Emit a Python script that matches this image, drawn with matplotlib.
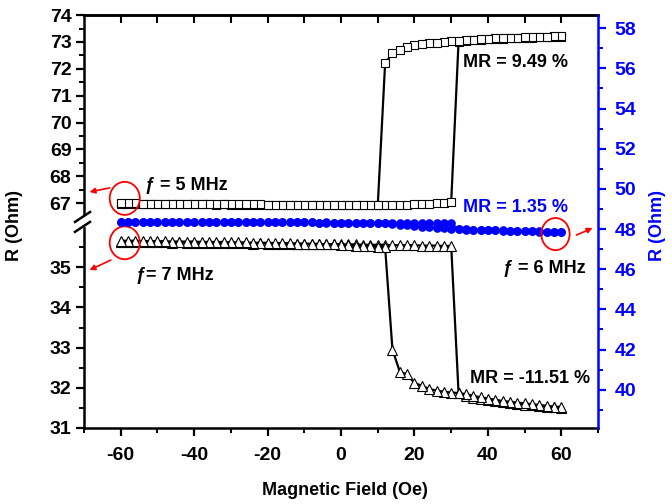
import matplotlib
import numpy as np

matplotlib.use("Agg")
import matplotlib.pyplot as plt
from matplotlib.patches import Ellipse, Rectangle

plt.rcParams["font.family"] = ["Liberation Sans", "DejaVu Sans"]
plt.rcParams["font.weight"] = "bold"
plt.rcParams["axes.labelweight"] = "bold"
plt.rcParams["axes.unicode_minus"] = False

# field sweep, 2 Oe steps; "up" goes -60 -> 60, "down" goes 60 -> -60
field = np.arange(-60, 62, 2)
field_back = field[::-1]

# f = 5 MHz (left axis, upper part)
r5_up = [66.98, 66.98, 66.97, 66.98, 66.97, 66.97, 66.97, 66.96, 66.97, 66.96,
         66.96, 66.96, 66.96, 66.95, 66.96, 66.95, 66.95, 66.95, 66.95, 66.95,
         66.94, 66.95, 66.94, 66.94, 66.94, 66.94, 66.94, 66.94, 66.93, 66.94,
         66.94, 66.94, 66.95, 66.95, 66.94, 66.95, 66.95, 66.94, 66.95, 66.95,
         66.96, 66.96, 66.97, 66.99, 67.02, 67.05,
         73.00, 73.04, 73.06, 73.08, 73.10, 73.11, 73.12, 73.13, 73.14, 73.15,
         73.16, 73.17, 73.18, 73.19, 73.20]
r5_down = [73.22, 73.21, 73.20, 73.19, 73.18, 73.17, 73.16, 73.15, 73.14, 73.13,
           73.12, 73.10, 73.08, 73.06, 73.04,
           73.02, 73.00, 72.97, 72.95, 72.92, 72.88, 72.82, 72.72, 72.58, 72.20,
           66.92, 66.92, 66.93, 66.93, 66.93, 66.93,
           66.93, 66.94, 66.94, 66.94, 66.94, 66.95, 66.95, 66.95, 66.95, 66.95,
           66.96, 66.96, 66.96, 66.96, 66.96, 66.96, 66.97, 66.97, 66.97, 66.97,
           66.97, 66.97, 66.98, 66.98, 66.98, 66.98, 66.98, 66.99, 66.99, 66.99]

# f = 7 MHz (left axis, lower part)
r7_up = [35.63, 35.63, 35.62, 35.63, 35.62, 35.62, 35.62, 35.61, 35.62, 35.61,
         35.61, 35.61, 35.60, 35.61, 35.60, 35.60, 35.60, 35.60, 35.59, 35.60,
         35.59, 35.59, 35.59, 35.58, 35.59, 35.58, 35.58, 35.58, 35.57, 35.58,
         35.57, 35.57, 35.57, 35.56, 35.56, 35.56, 35.56, 35.55, 35.55, 35.55,
         35.55, 35.54, 35.54, 35.54, 35.53, 35.53,
         31.88, 31.80, 31.75, 31.72, 31.69, 31.66, 31.64, 31.62, 31.60, 31.58,
         31.56, 31.55, 31.53, 31.52, 31.50]
r7_down = [31.52, 31.53, 31.55, 31.57, 31.59, 31.61, 31.63, 31.65, 31.67, 31.70,
           31.73, 31.76, 31.80, 31.84, 31.87,
           31.88, 31.90, 31.93, 31.97, 32.05, 32.12, 32.33, 32.40, 32.95,
           35.50, 35.51, 35.52, 35.53, 35.54, 35.55, 35.56,
           35.57, 35.57, 35.58, 35.58, 35.59, 35.59, 35.60, 35.60, 35.60, 35.61,
           35.61, 35.61, 35.62, 35.62, 35.62, 35.63, 35.63, 35.63, 35.63, 35.64,
           35.64, 35.64, 35.64, 35.65, 35.65, 35.65, 35.65, 35.66, 35.66, 35.66]

# f = 6 MHz (right axis)
r6_up = [48.36, 48.36, 48.36, 48.35, 48.36, 48.35, 48.35, 48.35, 48.35, 48.35,
         48.35, 48.34, 48.35, 48.34, 48.34, 48.34, 48.34, 48.34, 48.33, 48.34,
         48.34, 48.33, 48.33, 48.33, 48.33, 48.33, 48.33, 48.32, 48.33, 48.32,
         48.32, 48.32, 48.32, 48.32, 48.32, 48.31, 48.32, 48.31, 48.31, 48.31,
         48.31, 48.31, 48.30, 48.30, 48.30, 48.28,
         48.00, 47.98, 47.97, 47.96, 47.95, 47.94, 47.93, 47.92, 47.91, 47.90,
         47.89, 47.88, 47.87, 47.86, 47.85]
r6_down = [47.84, 47.85, 47.86, 47.87, 47.88, 47.89, 47.90, 47.91, 47.92, 47.93,
           47.94, 47.95, 47.96, 47.97, 47.98,
           48.00, 48.03, 48.06, 48.09, 48.12, 48.15, 48.18, 48.21, 48.25, 48.28,
           48.30, 48.30, 48.31, 48.31, 48.31, 48.32,
           48.32, 48.32, 48.32, 48.33, 48.33, 48.33, 48.33, 48.33, 48.34, 48.34,
           48.34, 48.34, 48.34, 48.34, 48.35, 48.35, 48.35, 48.35, 48.35, 48.35,
           48.35, 48.36, 48.36, 48.36, 48.36, 48.36, 48.36, 48.37, 48.37, 48.37]

left_major = [31, 32, 33, 34, 35, 67, 68, 69, 70, 71, 72, 73, 74]
left_minor = [31.5, 32.5, 33.5, 34.5, 35.5, 67.5, 68.5, 69.5, 70.5, 71.5, 72.5, 73.5]
right_major = [40, 42, 44, 46, 48, 50, 52, 54, 56, 58]
right_minor = [39, 41, 43, 45, 47, 49, 51, 53, 55, 57]

BLUE = "#0000ff"


# broken left axis: 31..36.17 at the bottom, 66.37..74 on top
def fwd(v):
    v = np.asarray(v, dtype=float)
    return np.where(v < 50, (v - 31) * 40.2, 208 + (v - 66.37) * 26.9)


def inv(u):
    u = np.asarray(u, dtype=float)
    return np.where(u < 208, 31 + u / 40.2, 66.37 + (u - 208) / 26.9)


fig = plt.figure(figsize=(6.72, 5.04), dpi=100)
ax = fig.add_axes([0.125, 0.151, 0.765, 0.819])
ax.set_yscale("function", functions=(fwd, inv))

sq = dict(color="black", lw=1.6, marker="s", ms=6, mfc="white", mec="black", mew=0.8)
tri = dict(color="black", lw=1.6, marker="^", ms=6.5, mfc="white", mec="black", mew=0.8)
ax.plot(field, r5_up, **sq)
ax.plot(field_back, r5_down, **sq)
ax.plot(field, r7_up, **tri)
ax.plot(field_back, r7_down, **tri)

ax.set_xlim(-70, 70)
ax.set_ylim(31, 74)
ax.set_xticks(np.arange(-60, 61, 20))
ax.set_xticks(np.arange(-70, 71, 10), minor=True)
ax.set_yticks(left_major)
ax.set_yticks(left_minor, minor=True)
ax.tick_params(which="major", direction="out", length=6, width=1.6, labelsize=14)
ax.tick_params(which="minor", direction="out", length=3.5, width=1.4)
ax.tick_params(axis="x", pad=8)
ax.tick_params(axis="y", pad=3)
for side in ["left", "bottom", "top"]:
    ax.spines[side].set_linewidth(1.8)
ax.spines["right"].set_visible(False)

top = ax.secondary_xaxis("top")
top.set_xticks(np.arange(-60, 61, 10))
top.tick_params(direction="in", length=6, width=1.5, labeltop=False)
top.spines["top"].set_linewidth(1.8)

ax2 = ax.twinx()
blue = dict(color=BLUE, lw=1.4, marker="o", ms=5.2, mfc=BLUE, mec=BLUE)
ax2.plot(field, r6_up, **blue)
ax2.plot(field_back, r6_down, **blue)
ax2.set_ylim(38.1, 58.65)
ax2.set_yticks(right_major)
ax2.set_yticks(right_minor, minor=True)
ax2.tick_params(axis="y", which="major", colors=BLUE, direction="out", length=6,
                width=1.6, labelsize=14, pad=6)
ax2.tick_params(axis="y", which="minor", colors=BLUE, direction="out", length=3.5, width=1.4)
for side in ["left", "top", "bottom"]:
    ax2.spines[side].set_visible(False)
ax2.spines["right"].set_color(BLUE)
ax2.spines["right"].set_linewidth(1.8)

# break marks on the left spine
ax.add_patch(Rectangle((-0.015, 0.489), 0.03, 0.024, transform=ax.transAxes,
                       color="white", zorder=5, clip_on=False))
for y0 in [0.475, 0.499]:
    ax.plot([-0.0175, 0.0117], [y0, y0 + 0.024], transform=ax.transAxes,
            color="black", lw=1.8, clip_on=False, zorder=6)

# red markers around the starting / end points
ax.add_patch(Ellipse((field[0] + 1.1, r5_up[0] + 0.2), 8.2, 1.23,
                     fill=False, ec="red", lw=1.3, zorder=4))
ax.add_patch(Ellipse((field[0] + 1.1, r7_up[0] - 0.02), 8.2, 0.82,
                     fill=False, ec="red", lw=1.3, zorder=4))
ax2.add_patch(Ellipse((field[-1] - 1.6, r6_up[-1] - 0.1), 7.7, 1.6,
                      fill=False, ec="red", lw=1.3, zorder=4))

arrow = dict(arrowstyle="-|>", color="red", lw=1.2, mutation_scale=8,
             shrinkA=0, shrinkB=0)
ax.annotate("", xy=(-68.5, 67.42), xytext=(-63.0, 67.57), arrowprops=arrow,
            annotation_clip=False)
ax.annotate("", xy=(-68.5, 34.93), xytext=(-62.7, 35.18), arrowprops=arrow,
            annotation_clip=False)
ax2.annotate("", xy=(68.5, 48.05), xytext=(64.1, 47.7), arrowprops=arrow,
             annotation_clip=False)

ax.text(-53.5, 67.65, "ƒ = 5 MHz", fontsize=13, va="center", ha="left")
ax.text(-55.9, 34.8, "ƒ= 7 MHz", fontsize=13, va="center", ha="left")
ax.text(44.1, 34.98, "ƒ = 6 MHz", fontsize=13, va="center", ha="left")
ax.text(33.2, 72.22, "MR = 9.49 %", fontsize=13, va="center", ha="left")
ax.text(35.1, 32.24, "MR = -11.51 %", fontsize=13, va="center", ha="left")
ax2.text(33.2, 49.05, "MR = 1.35 %", fontsize=13, va="center", ha="left", color=BLUE)

ax.set_xlabel("Magnetic Field (Oe)", fontsize=13)
ax.xaxis.set_label_coords(0.508, -0.13)
ax.set_ylabel("R (Ohm)", fontsize=13)
ax.yaxis.set_label_coords(-0.118, 0.49)
ax2.set_ylabel("R (Ohm)", fontsize=13, color=BLUE, rotation=90)
ax2.yaxis.set_label_coords(1.10, 0.49)

fig.savefig("out.png", dpi=100)
